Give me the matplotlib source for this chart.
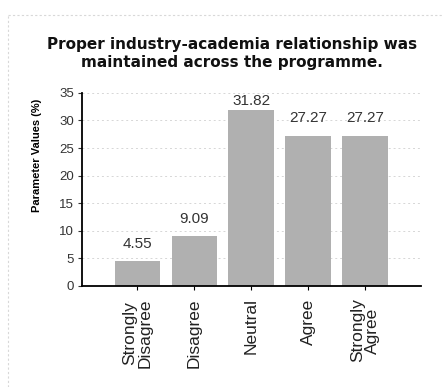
import numpy as np
import matplotlib.pyplot as plt
from matplotlib.lines import Line2D

categories = ['Strongly\nDisagree', 'Disagree', 'Neutral', 'Agree', 'Strongly\nAgree']
values = [4.55, 9.09, 31.82, 27.27, 27.27]
y_ticks = [0, 5, 10, 15, 20, 25, 30, 35]

title = 'Proper industry-academia relationship was\nmaintained across the programme.'
y_label = 'Parameter Values (%)'

fig = plt.figure(figsize=(4.44, 3.87), dpi=100)
ax = fig.add_axes([0.185, 0.261, 0.763, 0.499])

# faint dotted frame edges (top and left)
fig.add_artist(Line2D([0.018, 0.995], [0.961, 0.961], transform=fig.transFigure,
                      color='#d8d8d8', linewidth=0.8, linestyle=(0, (2, 2))))
fig.add_artist(Line2D([0.018, 0.018], [0.0, 0.961], transform=fig.transFigure,
                      color='#d8d8d8', linewidth=0.8, linestyle=(0, (2, 2))))

x = np.arange(len(categories))
bars = ax.bar(x, values, width=0.8, color='#b0b0b0', zorder=2)

for b, v in zip(bars, values):
    ax.text(b.get_x() + b.get_width() / 2, min(v + 3.1, 33.6), f'{v:.2f}',
            ha='center', va='center', fontsize=11, family='Liberation Sans',
            color='#333333')

ax.set_xlim(-0.97, 4.98)
ax.set_ylim(0, 35)
ax.set_yticks(y_ticks)
ax.set_xticks(x)
ax.set_xticklabels(categories, rotation=90, fontsize=12.5, family='Liberation Sans',
                   color='#222222', linespacing=1.05)
ax.tick_params(axis='y', labelsize=9.5, colors='#333333', length=3, width=0.8, pad=3)
ax.tick_params(axis='x', length=3, width=0.8, pad=6)
for lbl in ax.get_yticklabels():
    lbl.set_family('Liberation Sans')

ax.grid(axis='y', color='#d6d6d6', linestyle=(0, (2, 3)), linewidth=0.7, zorder=0)
ax.spines['top'].set_visible(False)
ax.spines['right'].set_visible(False)
ax.spines['left'].set_linewidth(1.3)
ax.spines['bottom'].set_linewidth(1.3)

ax.set_ylabel(y_label, fontsize=8, fontweight='bold', family='Liberation Sans')
ax.yaxis.set_label_coords(-0.118, 0.674)
fig.text(0.523, 0.862, title, ha='center', va='center', fontsize=11,
         fontweight='bold', family='DejaVu Sans', linespacing=1.2, color='#111111')

fig.savefig('out.png', dpi=100)
